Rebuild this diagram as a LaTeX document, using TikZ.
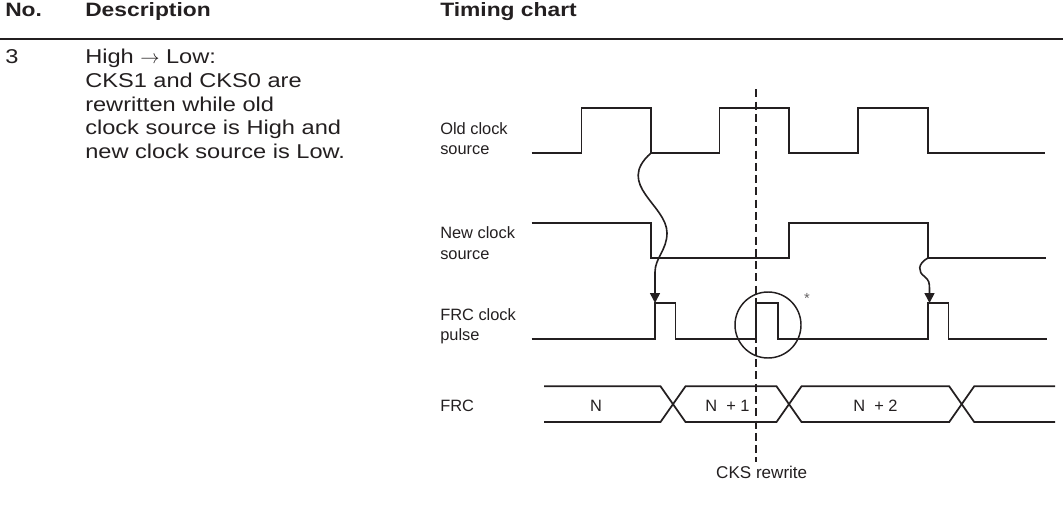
\documentclass[tikz,border=0pt]{standalone}
\usepackage{fontspec}
\setmainfont{Liberation Sans}
\newfontfamily\widefont[FakeStretch=1.18]{Liberation Sans}
\usetikzlibrary{arrows.meta}
\definecolor{ink}{RGB}{35,31,32}
\begin{document}
\begin{tikzpicture}[x=0.75pt,y=-0.75pt,
  sig/.style={line width=1.3pt, draw=ink, line join=miter},
  conn/.style={line width=1.2pt, draw=ink, -{Triangle[length=7.5pt,width=7.5pt]}},
  hdr/.style={font=\widefont\bfseries\fontsize{14.5}{17}\selectfont, text=ink, anchor=base west, inner sep=0pt},
  body/.style={font=\widefont\fontsize{15}{18}\selectfont, text=ink, anchor=base west, inner sep=0pt},
  lbl/.style={font=\fontsize{12.3}{15}\selectfont, text=ink, anchor=base west, inner sep=0pt},
  buslbl/.style={font=\fontsize{12.3}{15}\selectfont, text=ink, anchor=base, inner sep=0pt},
]
\useasboundingbox (0,0) rectangle (1063,517);

% header
\node[hdr] (hno) at (5,16.7) {No.};
\node[hdr] (hdesc) at (85,16.7) {Description};
\node[hdr] (htc) at (440,16.7) {Timing chart};
\draw[line width=1.5pt, draw=ink] (0,39) -- (1063,39);

% description
\node[body] (no3) at (5,63.5) {3};
\node[body] (d1) at (85,63.5) {High $\rightarrow$ Low:};
\node[body] (d2) at (85,87.25) {CKS1 and CKS0 are};
\node[body] (d3) at (85,111) {rewritten while old};
\node[body] (d4) at (85,134.75) {clock source is High and};
\node[body] (d5) at (85,158.5) {new clock source is Low.};

% signal labels
\node[lbl] (lold1) at (440,134.3) {Old clock};
\node[lbl] (lold2) at (440,154.8) {source};
\node[lbl] (lnew1) at (440,238.7) {New clock};
\node[lbl] (lnew2) at (440,259.2) {source};
\node[lbl] (lfrc1) at (440,320.3) {FRC clock};
\node[lbl] (lfrc2) at (440,340.8) {pulse};
\node[lbl] (lfrc) at (440,411.7) {FRC};

% old clock source
\draw[sig] (531.5,153.3) -- (581.5,153.3) -- (581.5,108.3) -- (650.7,108.3) -- (650.7,153.3)
  -- (719.5,153.3) -- (719.5,108.3) -- (789,108.3) -- (789,153.3)
  -- (858.3,153.3) -- (858.3,108.3) -- (928.3,108.3) -- (928.3,153.3) -- (1045,153.3);
% new clock source
\draw[sig] (531.5,222.7) -- (650.7,222.7) -- (650.7,257.7) -- (789,257.7) -- (789,222.7)
  -- (928.3,222.7) -- (928.3,257.7) -- (1046,257.7);
% FRC clock pulse
\draw[sig] (531.5,339.3) -- (655,339.3) -- (655,303) -- (675.5,303) -- (675.5,339.3)
  -- (756.3,339.3) -- (756.3,303) -- (777.8,303) -- (777.8,339.3)
  -- (928.3,339.3) -- (928.3,303) -- (948.5,303) -- (948.5,339.3) -- (1046.7,339.3);
% FRC bus
\draw[sig] (544,386.3) -- (660.5,386.3) -- (685.5,422) -- (776.5,422) -- (801.5,386.3)
  -- (949.2,386.3) -- (974.2,422) -- (1055,422);
\draw[sig] (544,422) -- (660.5,422) -- (685.5,386.3) -- (776.5,386.3) -- (801.5,422)
  -- (949.2,422) -- (974.2,386.3) -- (1055,386.3);
\node[buslbl] (bn) at (596,411.7) {N};
\node[buslbl] (bn1) at (727.5,411.7) {N\ \ + 1};
\node[buslbl] (bn2) at (875.5,411.7) {N\ \ + 2};

% CKS rewrite marker
\coordinate (dtop) at (756.3,89.3);
\coordinate (dbot) at (756.3,462);
\draw[sig, dash pattern=on 6pt off 3.2pt] (dtop) -- (dbot);
\node[buslbl, font=\fontsize{12.8}{15}\selectfont] (cks) at (761.7,478.5) {CKS rewrite};

% circle and asterisk
\node[draw=ink, circle, line width=1.1pt, minimum size=49.5pt, inner sep=0pt] (ring) at (768,325) {};
\node[font=\fontsize{11}{11}\selectfont, text=ink!70, anchor=base, inner sep=0pt] (star) at (807,303) {*};

% causal arrows
\coordinate (of1) at (650.7,153.3);
\coordinate (p1) at (655,303);
\draw[conn] (of1) .. controls (615,185) and (667,205) .. (667,233)
  .. controls (667,250) and (655,258) .. (655,272) -- (p1);
\coordinate (nf2) at (928.3,257.7);
\coordinate (p3) at (929.5,303);
\draw[conn] (nf2) .. controls (917,264) and (918,272) .. (924.5,276.5)
  .. controls (929,280) and (929.5,283) .. (929.5,289) -- (p3);
\end{tikzpicture}
\end{document}
